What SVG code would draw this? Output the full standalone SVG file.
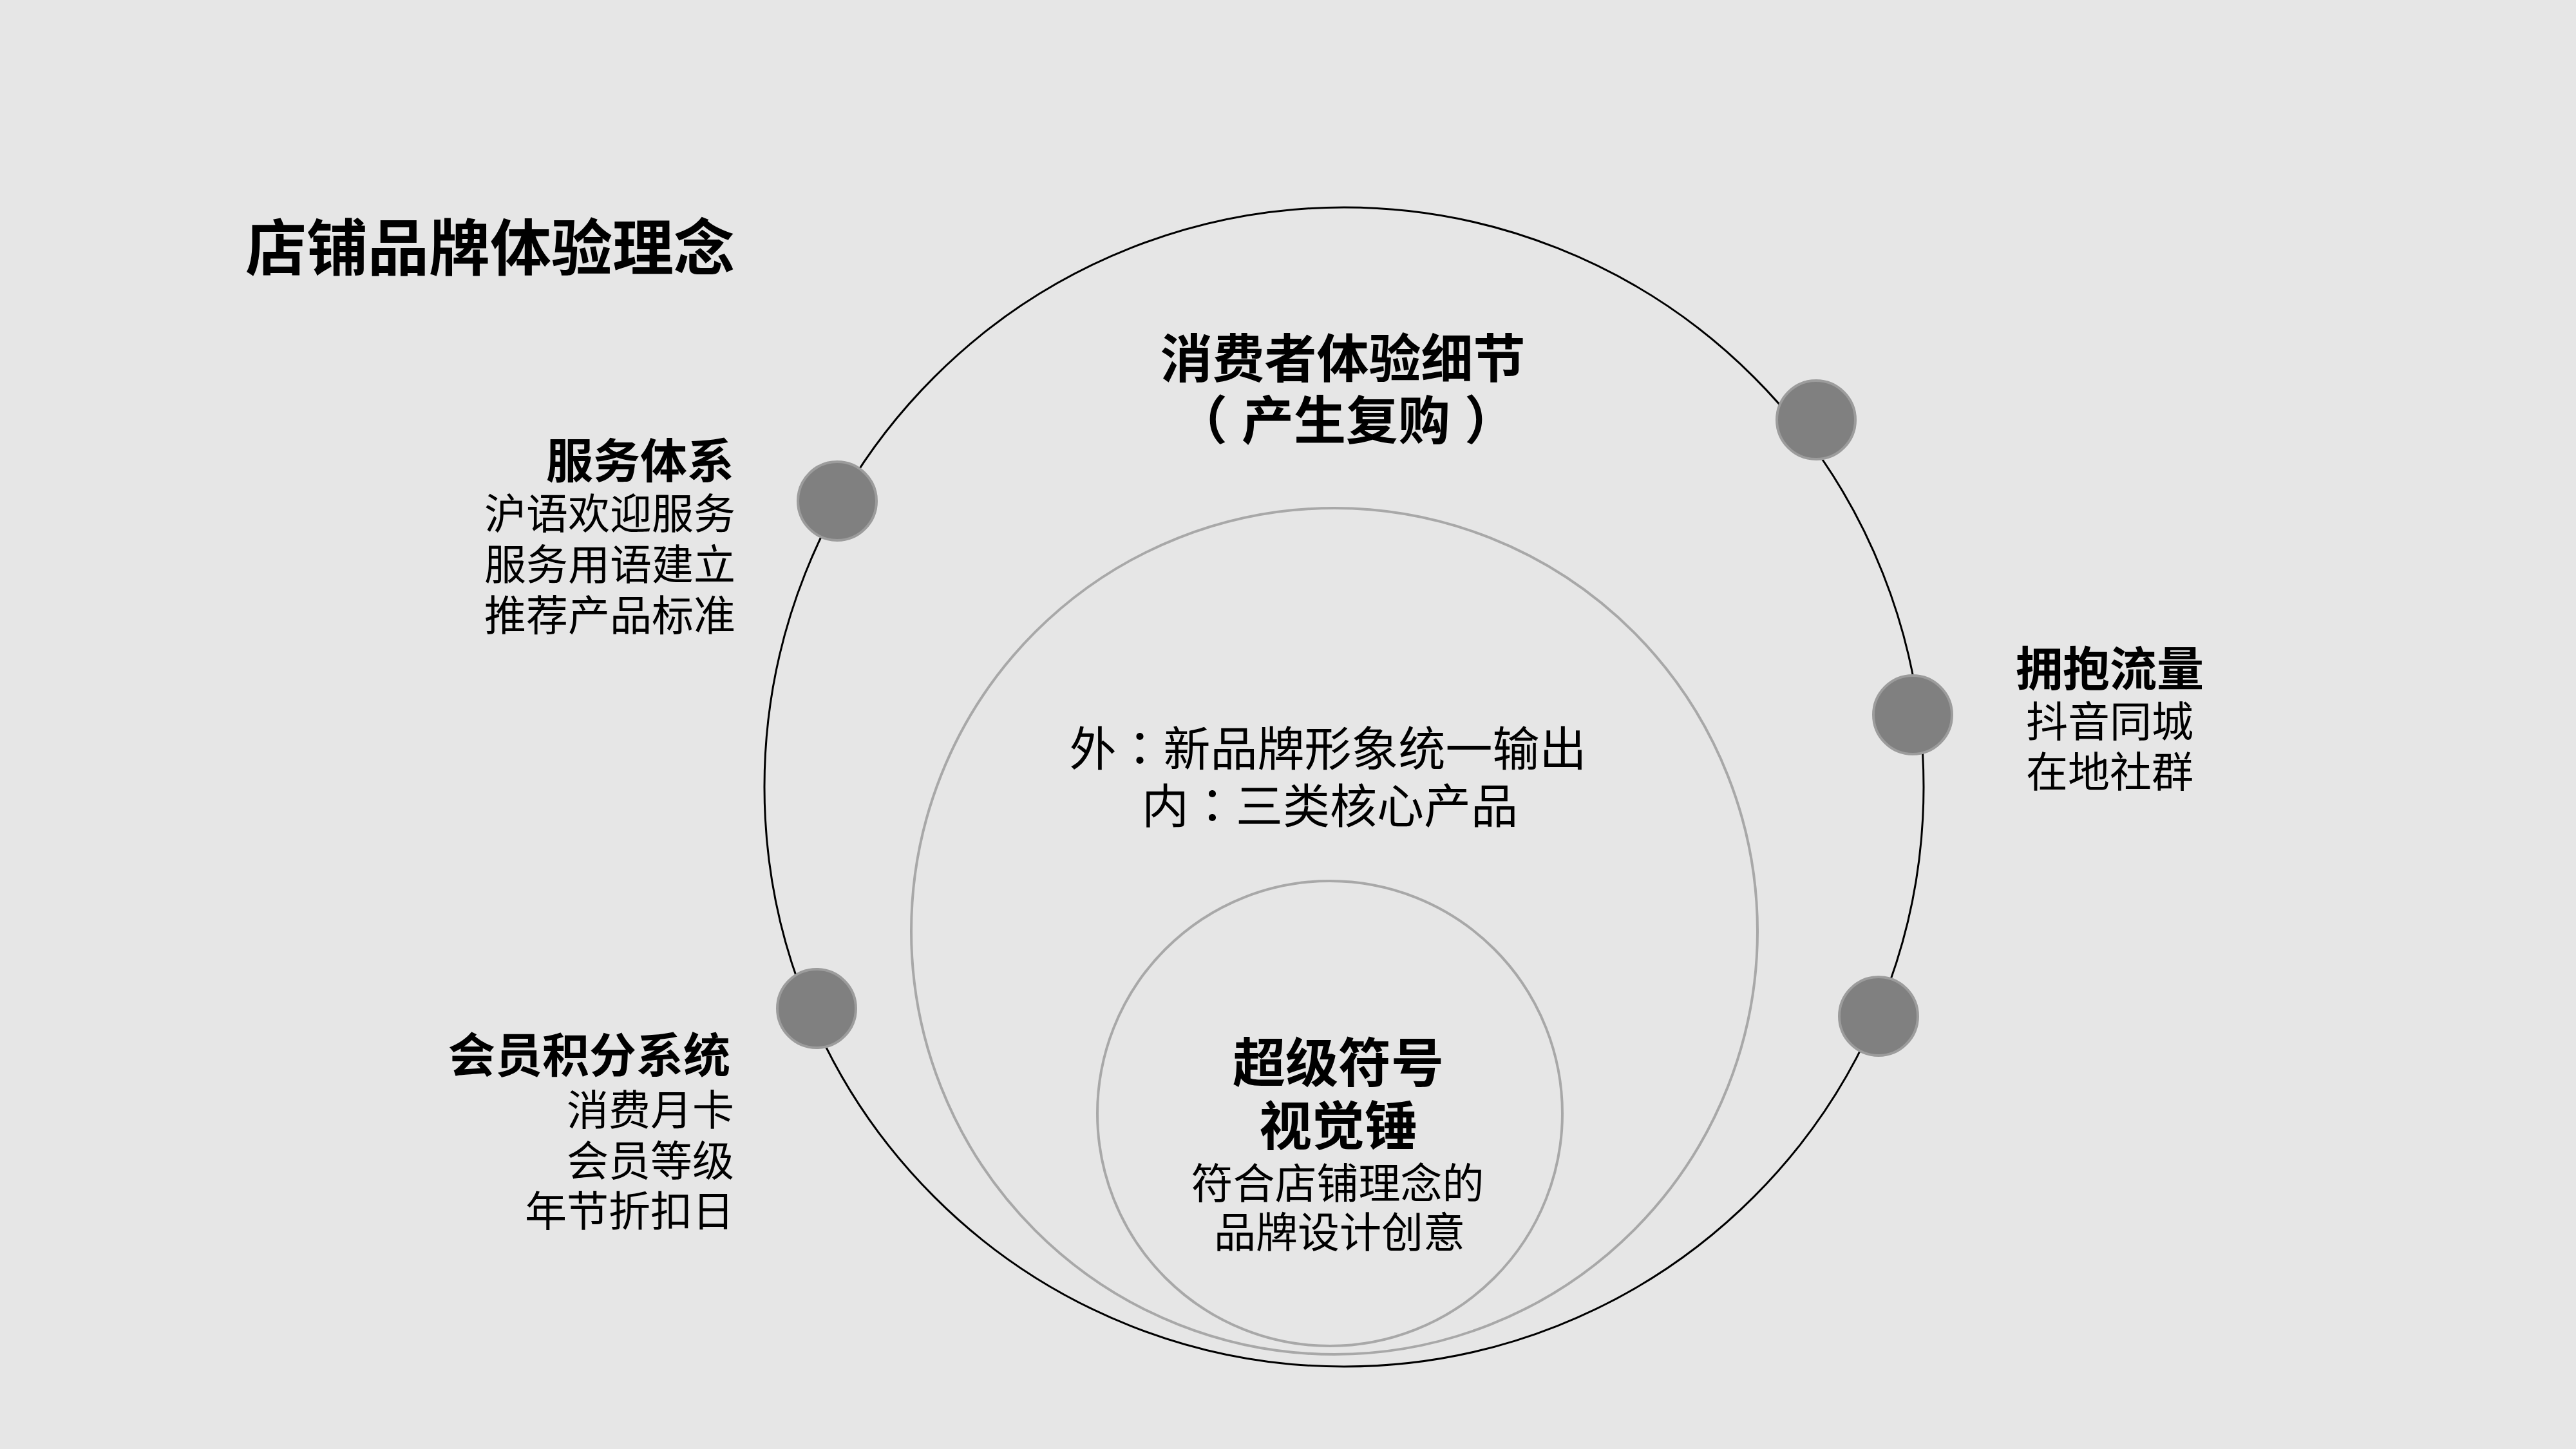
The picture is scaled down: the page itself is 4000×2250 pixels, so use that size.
<svg xmlns="http://www.w3.org/2000/svg" width="4000" height="2250" viewBox="0 0 4000 2250">
<style>
text { font-family: "Noto Sans CJK SC", "Noto Sans", sans-serif; fill: #000; }
.b { font-weight: 700; }
.r { font-weight: 400; }
.p { font-family: "Noto Sans CJK TC", "Noto Sans CJK SC", sans-serif; }
.dot { fill: #808080; stroke: #9c9c9c; stroke-width: 4; }
.ring { fill: none; stroke: #a8a8a8; stroke-width: 4; }
</style>
<rect x="0" y="0" width="4000" height="2250" fill="#e6e6e6"/>
<text class="b" x="381" y="420" font-size="95">店铺品牌体验理念</text>
<g id="rings">
  <circle id="outer-ring" cx="2087" cy="1222" r="900" fill="none" stroke="#000" stroke-width="3"/>
  <circle id="middle-ring" class="ring" cx="2072" cy="1446" r="657"/>
  <circle id="inner-ring" class="ring" cx="2065" cy="1729" r="361"/>
</g>
<g id="dots">
  <circle id="dot-service" class="dot" cx="1300" cy="778" r="61"/>
  <circle id="dot-top-right" class="dot" cx="2820" cy="652" r="61"/>
  <circle id="dot-traffic" class="dot" cx="2970" cy="1110" r="61"/>
  <circle id="dot-member" class="dot" cx="1268" cy="1566" r="61"/>
  <circle id="dot-bottom-right" class="dot" cx="2917" cy="1578" r="61"/>
</g>
<g id="node-consumer" text-anchor="middle">
  <text class="b" x="2085" y="586" font-size="81">消费者体验细节</text>
  <text class="b" x="2090" y="682" font-size="81"><tspan class="p">（</tspan><tspan dx="22">产生复购</tspan><tspan class="p" dx="22">）</tspan></text>
</g>
<g id="node-service" text-anchor="end">
  <text class="b" x="1140" y="742" font-size="73">服务体系</text>
  <text class="r" x="1142" y="821" font-size="65">沪语欢迎服务</text>
  <text class="r" x="1142" y="900" font-size="65">服务用语建立</text>
  <text class="r" x="1142" y="979" font-size="65">推荐产品标准</text>
</g>
<g id="node-traffic" text-anchor="middle">
  <text class="b" x="3276" y="1065" font-size="73">拥抱流量</text>
  <text class="r" x="3276" y="1144" font-size="65">抖音同城</text>
  <text class="r" x="3276" y="1222" font-size="65">在地社群</text>
</g>
<g id="node-member" text-anchor="end">
  <text class="b" x="1134" y="1665" font-size="73">会员积分系统</text>
  <text class="r" x="1140" y="1747" font-size="65">消费月卡</text>
  <text class="r" x="1140" y="1826" font-size="65">会员等级</text>
  <text class="r" x="1140" y="1904" font-size="65">年节折扣日</text>
</g>
<g id="node-brand" text-anchor="middle">
  <text class="r" x="2062" y="1189" font-size="73">外<tspan class="p">：</tspan>新品牌形象统一输出</text>
  <text class="r" x="2065" y="1278" font-size="73">内<tspan class="p">：</tspan>三类核心产品</text>
</g>
<g id="node-symbol" text-anchor="middle">
  <text class="b" x="2078" y="1680" font-size="82">超级符号</text>
  <text class="b" x="2078" y="1778" font-size="82">视觉锤</text>
  <text class="r" x="2077" y="1861" font-size="65">符合店铺理念的</text>
  <text class="r" x="2080" y="1937" font-size="65">品牌设计创意</text>
</g>
</svg>
